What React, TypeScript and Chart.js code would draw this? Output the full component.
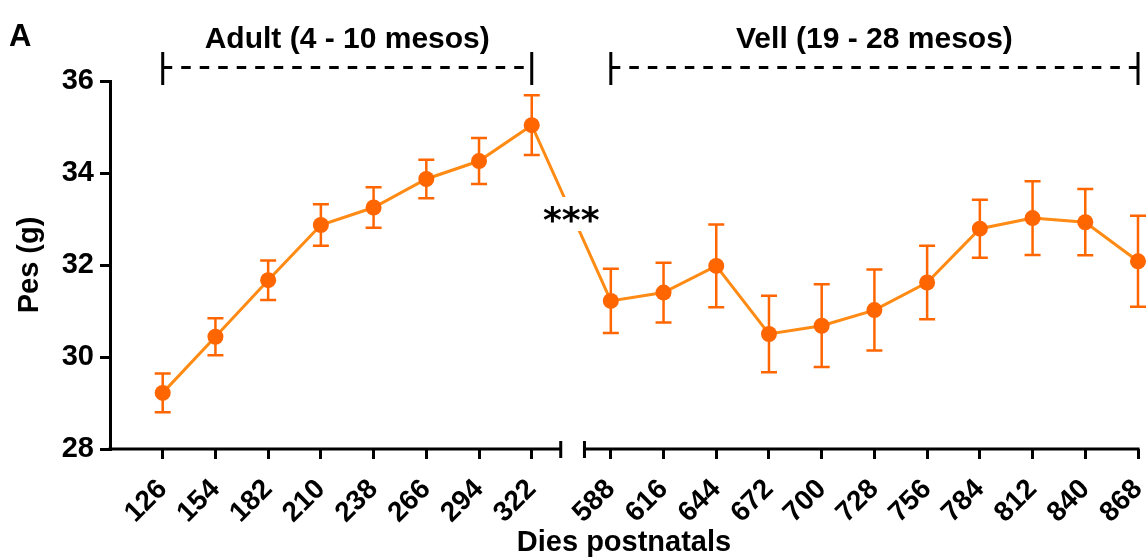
import React, { useEffect, useRef } from 'react';
import { Chart, registerables } from 'chart.js';

Chart.register(...registerables);

// ---- data ----
const adultDays = ['126', '154', '182', '210', '238', '266', '294', '322'];
const oldDays = ['588', '616', '644', '672', '700', '728', '756', '784', '812', '840', '868'];
const adultMean = [29.22, 30.44, 31.67, 32.87, 33.25, 33.87, 34.26, 35.04];
const adultSem = [0.42, 0.4, 0.43, 0.45, 0.44, 0.42, 0.5, 0.65];
const oldMean = [31.22, 31.4, 31.98, 30.5, 30.68, 31.02, 31.62, 32.79, 33.02, 32.93, 32.08];
const oldSem = [0.7, 0.65, 0.9, 0.83, 0.9, 0.88, 0.8, 0.63, 0.8, 0.72, 0.99];
const yTicks = [28, 30, 32, 34, 36];
const groupLabels = ['Adult (4 - 10 mesos)', 'Vell (19 - 28 mesos)'];
const significance = '***';
const xTitle = 'Dies postnatals';
const yTitle = 'Pes (g)';
const panelLabel = 'A';

// ---- layout constants ----
const OLD_OFFSET = 8.5; // position of first "old" category (axis break)
const BREAK_LEFT = 7.55;
const BREAK_RIGHT = 8.0;
const X_MIN = -1;
const X_MAX = 18.5;

const LINE_COLOR = '#ff8a14';
const POINT_COLOR = '#ff6600';
const FONT = '"Liberation Sans", Arial, sans-serif';

const adultX = adultDays.map((_, i) => i);
const oldX = oldDays.map((_, j) => OLD_OFFSET + j);
const allX = [...adultX, ...oldX];
const allLabels = [...adultDays, ...oldDays];
const allMean = [...adultMean, ...oldMean];
const allSem = [...adultSem, ...oldSem];

const decorPlugin = {
  id: 'decor',
  beforeDatasetsDraw(chart: any) {
    const { ctx } = chart;
    const xs = chart.scales.x;
    const ys = chart.scales.y;
    ctx.save();
    ctx.strokeStyle = POINT_COLOR;
    ctx.lineWidth = 2.5;
    allX.forEach((xv, i) => {
      const px = xs.getPixelForValue(xv);
      const top = ys.getPixelForValue(allMean[i] + allSem[i]);
      const bot = ys.getPixelForValue(allMean[i] - allSem[i]);
      ctx.beginPath();
      ctx.moveTo(px, top);
      ctx.lineTo(px, bot);
      ctx.moveTo(px - 8, top);
      ctx.lineTo(px + 8, top);
      ctx.moveTo(px - 8, bot);
      ctx.lineTo(px + 8, bot);
      ctx.stroke();
    });
    ctx.restore();
  },
  afterDatasetsDraw(chart: any) {
    const { ctx } = chart;
    const xs = chart.scales.x;
    const ys = chart.scales.y;
    const x1 = xs.getPixelForValue(adultX[adultX.length - 1]);
    const x2 = xs.getPixelForValue(oldX[0]);
    const cx = (x1 + x2) / 2;
    const cy = (ys.getPixelForValue(adultMean[adultMean.length - 1]) + ys.getPixelForValue(oldMean[0])) / 2;
    ctx.save();
    ctx.fillStyle = '#ffffff';
    ctx.fillRect(cx - 31, cy - 16, 62, 34);
    ctx.fillStyle = '#000000';
    ctx.font = 'bold 36px "DejaVu Sans", sans-serif';
    ctx.textAlign = 'center';
    ctx.textBaseline = 'alphabetic';
    ctx.fillText(significance, cx, cy + 19);
    ctx.restore();
  },
  afterDraw(chart: any) {
    const { ctx, chartArea } = chart;
    const xs = chart.scales.x;
    const bottom = chartArea.bottom;
    ctx.save();
    ctx.strokeStyle = '#000000';
    ctx.lineWidth = 3;
    ctx.lineCap = 'butt';
    const bl = xs.getPixelForValue(BREAK_LEFT);
    const br = xs.getPixelForValue(BREAK_RIGHT);
    const endPx = xs.getPixelForValue(oldX[oldX.length - 1]);
    ctx.beginPath();
    ctx.moveTo(chartArea.left - 1.5, bottom);
    ctx.lineTo(bl, bottom);
    ctx.moveTo(bl, bottom - 8);
    ctx.lineTo(bl, bottom + 9);
    ctx.moveTo(br, bottom - 8);
    ctx.lineTo(br, bottom + 9);
    ctx.moveTo(br, bottom);
    ctx.lineTo(endPx + 1.5, bottom);
    ctx.stroke();

    const groups = [adultX, oldX];
    const bracketY = 67.5;
    ctx.fillStyle = '#000000';
    ctx.font = 'bold 30px ' + FONT;
    ctx.textAlign = 'center';
    ctx.textBaseline = 'alphabetic';
    groups.forEach((g, k) => {
      const a = xs.getPixelForValue(g[0]);
      const b = xs.getPixelForValue(g[g.length - 1]);
      ctx.setLineDash([]);
      ctx.beginPath();
      ctx.moveTo(a, 52);
      ctx.lineTo(a, 85);
      ctx.moveTo(b, 52);
      ctx.lineTo(b, 85);
      ctx.stroke();
      ctx.setLineDash([9.5, 9]);
      ctx.beginPath();
      ctx.moveTo(a, bracketY);
      ctx.lineTo(b, bracketY);
      ctx.stroke();
      ctx.fillText(groupLabels[k], (a + b) / 2, 48);
    });
    ctx.setLineDash([]);

    ctx.textAlign = 'left';
    ctx.font = 'bold 31px ' + FONT;
    ctx.fillText(panelLabel, 9, 46);

    ctx.font = 'bold 29px ' + FONT;
    ctx.textAlign = 'center';
    ctx.fillText(xTitle, (chartArea.left + chartArea.right) / 2, 551);
    ctx.translate(30, (chartArea.top + chartArea.bottom) / 2);
    ctx.rotate(-Math.PI / 2);
    ctx.textBaseline = 'middle';
    ctx.fillText(yTitle, 0, 0);
    ctx.restore();
  },
};

export default function App() {
  const canvasRef = useRef<HTMLCanvasElement | null>(null);

  useEffect(() => {
    if (!canvasRef.current) return;
    const chart = new Chart(canvasRef.current, {
      type: 'line',
      data: {
        datasets: [
          {
            data: allX.map((x, i) => ({ x, y: allMean[i] })),
            borderColor: LINE_COLOR,
            borderWidth: 3,
            pointRadius: 8,
            pointHoverRadius: 8,
            pointBackgroundColor: POINT_COLOR,
            pointBorderWidth: 0,
            tension: 0,
            clip: false as any,
          },
        ],
      },
      options: {
        responsive: false,
        animation: false,
        devicePixelRatio: 1,
        layout: { padding: { top: 81, right: 8, left: 0, bottom: 0 } },
        plugins: { legend: { display: false }, tooltip: { enabled: false }, title: { display: false } },
        scales: {
          x: {
            type: 'linear',
            min: X_MIN,
            max: X_MAX,
            afterBuildTicks: (scale: any) => {
              scale.ticks = allX.map((v) => ({ value: v }));
            },
            afterFit: (scale: any) => {
              scale.height = 109;
              scale.paddingLeft = 0;
              scale.paddingRight = 0;
            },
            ticks: {
              autoSkip: false,
              minRotation: 45,
              maxRotation: 45,
              padding: 14,
              color: '#000000',
              font: { family: FONT, size: 28, weight: 'bold' },
              callback: (_v: any, i: number) => allLabels[i],
            },
            grid: {
              display: true,
              drawOnChartArea: false,
              drawTicks: true,
              tickLength: 10,
              lineWidth: 3,
              color: '#000000',
            },
            border: { display: false },
          },
          y: {
            type: 'linear',
            min: yTicks[0],
            max: yTicks[yTicks.length - 1],
            afterBuildTicks: (scale: any) => {
              scale.ticks = yTicks.map((v) => ({ value: v }));
            },
            afterFit: (scale: any) => {
              scale.width = 110;
              scale.paddingTop = 0;
              scale.paddingBottom = 0;
            },
            ticks: {
              padding: 6,
              color: '#000000',
              font: { family: FONT, size: 29, weight: 'bold' },
              callback: (v: any) => String(v),
            },
            grid: {
              display: true,
              drawOnChartArea: false,
              drawTicks: true,
              tickLength: 10,
              lineWidth: 3,
              color: '#000000',
            },
            border: { display: true, width: 3, color: '#000000' },
          },
        },
      },
      plugins: [decorPlugin],
    } as any);
    return () => chart.destroy();
  }, []);

  return (
    <div style={{ position: 'fixed', left: 0, top: 0, width: 1146, height: 558, background: '#ffffff' }}>
      <canvas ref={canvasRef} width={1146} height={558} style={{ display: 'block' }} />
    </div>
  );
}
